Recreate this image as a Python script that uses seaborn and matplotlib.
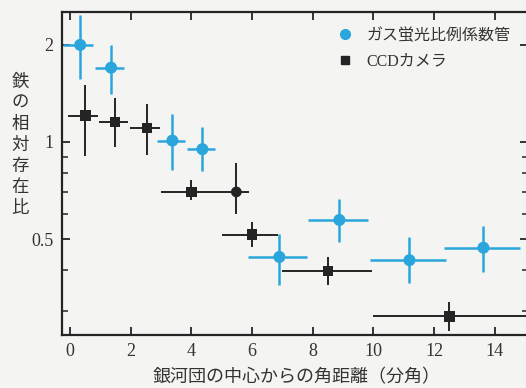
import matplotlib
matplotlib.use("Agg")
import matplotlib.pyplot as plt
import matplotlib.ticker as mticker
from matplotlib.lines import Line2D
import seaborn as sns
import pandas as pd
import numpy as np

# ---- data ----
gas_x = [0.33, 1.35, 3.37, 4.36, 6.9, 8.88, 11.19, 13.63]
gas_y = [2.0, 1.70, 1.01, 0.95, 0.44, 0.573, 0.43, 0.47]
gas_xlo = [-0.25, 0.83, 2.87, 3.86, 5.87, 7.85, 9.9, 12.34]
gas_xhi = [0.76, 1.78, 3.8, 4.79, 7.82, 9.83, 12.38, 14.85]
gas_ylo = [1.57, 1.41, 0.82, 0.81, 0.36, 0.49, 0.365, 0.395]
gas_yhi = [2.48, 2.0, 1.22, 1.11, 0.52, 0.665, 0.507, 0.55]

ccd_x = [0.5, 1.48, 2.53, 4.0, 5.48, 6.0, 8.5, 12.5]
ccd_y = [1.205, 1.154, 1.105, 0.70, 0.70, 0.516, 0.398, 0.288]
ccd_xlo = [-0.07, 0.96, 1.98, 3.0, 5.0, 5.0, 7.0, 10.0]
ccd_xhi = [0.92, 1.91, 2.97, 5.0, 5.9, 6.87, 9.97, 15.5]
ccd_ylo = [0.905, 0.965, 0.91, 0.66, 0.6, 0.472, 0.36, 0.26]
ccd_yhi = [1.50, 1.37, 1.31, 0.76, 0.86, 0.565, 0.44, 0.32]
ccd_marker = ["s", "s", "s", "s", "o", "s", "s", "s"]

series_labels = ["ガス蛍光比例係数管", "CCDカメラ"]
ylabel_text = "鉄の相対存在比"
xlabel_text = "銀河団の中心からの角距離（分角）"
x_ticks = [0, 2, 4, 6, 8, 10, 12, 14]
y_ticks = [0.5, 1, 2]
y_ticklabels = ["0.5", "1", "2"]
y_minor = [0.3, 0.4, 0.6, 0.7, 0.8, 0.9]

CYAN = "#2aa6dc"
BLACK = "#242424"
BG = "#f4f4f2"

sns.set_theme(style="ticks")
plt.rcParams["font.family"] = ["Liberation Serif", "Noto Sans CJK JP", "DejaVu Sans"]
jp = ["Noto Sans CJK JP", "DejaVu Sans"]

fig = plt.figure(figsize=(5.26, 3.88), dpi=100, facecolor=BG)
ax = fig.add_axes([62 / 526, 1 - 335 / 388, (528 - 62) / 526, (335 - 12) / 388])
ax.set_facecolor(BG)

gas = pd.DataFrame({"x": gas_x, "y": gas_y})
ccd = pd.DataFrame({"x": ccd_x, "y": ccd_y, "m": ccd_marker})

# error bars
gx = np.array(gas_x); gy = np.array(gas_y)
ax.errorbar(gx, gy,
            xerr=[gx - np.array(gas_xlo), np.array(gas_xhi) - gx],
            yerr=[gy - np.array(gas_ylo), np.array(gas_yhi) - gy],
            fmt="none", ecolor=CYAN, elinewidth=1.8, capsize=0, zorder=2)
cx = np.array(ccd_x); cy = np.array(ccd_y)
ax.errorbar(cx, cy,
            xerr=[cx - np.array(ccd_xlo), np.array(ccd_xhi) - cx],
            yerr=[cy - np.array(ccd_ylo), np.array(ccd_yhi) - cy],
            fmt="none", ecolor=BLACK, elinewidth=1.4, capsize=0, zorder=2)

# markers
sns.scatterplot(data=gas, x="x", y="y", ax=ax, color=CYAN, marker="o",
                s=75, edgecolor="none", zorder=3, legend=False)
for mk in ["s", "o"]:
    sub = ccd[ccd["m"] == mk]
    sns.scatterplot(data=sub, x="x", y="y", ax=ax, color=BLACK, marker=mk,
                    s=60, edgecolor="none", zorder=3, legend=False)

ax.set_yscale("log")
ax.set_xlim(-0.27, 15.1)
ax.set_ylim(0.252, 2.53)
ax.set_xticks(x_ticks)
ax.set_xticklabels([str(t) for t in x_ticks])
ax.yaxis.set_major_locator(mticker.FixedLocator(y_ticks))
ax.yaxis.set_major_formatter(mticker.FixedFormatter(y_ticklabels))
ax.yaxis.set_minor_locator(mticker.FixedLocator(y_minor))
ax.yaxis.set_minor_formatter(mticker.NullFormatter())
ax.xaxis.set_minor_locator(mticker.NullLocator())

ax.tick_params(axis="both", which="major", direction="in", length=6, width=1.3,
               color=BLACK, labelsize=13, labelcolor="#333333",
               top=True, right=True, pad=6)
ax.tick_params(axis="y", which="minor", direction="in", length=4, width=1.1,
               color=BLACK, right=True)
for sp in ax.spines.values():
    sp.set_linewidth(1.6)
    sp.set_color(BLACK)
ax.set_xlabel("")
ax.set_ylabel("")

# labels
fig.text(297 / 526, 1 - 377 / 388, xlabel_text, ha="center", va="center",
         fontsize=13, family=jp, color="#333333")
fig.text(20 / 526, 1 - 145 / 388, "\n".join(ylabel_text), ha="center", va="center",
         fontsize=12.5, family=jp, color="#333333", linespacing=1.22)

# legend
handles = [Line2D([], [], marker="o", color=CYAN, linestyle="none", markersize=7),
           Line2D([], [], marker="s", color=BLACK, linestyle="none", markersize=6)]
leg = ax.legend(handles, series_labels, loc="upper left",
                bbox_to_anchor=((339 - 62) / 466, 1 - (28 - 12) / 323),
                frameon=False, handlelength=0.8, handletextpad=0.9,
                labelspacing=0.6, borderaxespad=0, borderpad=0,
                prop={"family": ["Liberation Serif", "Noto Sans CJK JP"], "size": 11.5})
for t in leg.get_texts():
    t.set_color("#333333")

fig.savefig("out.png", dpi=100, facecolor=BG)
